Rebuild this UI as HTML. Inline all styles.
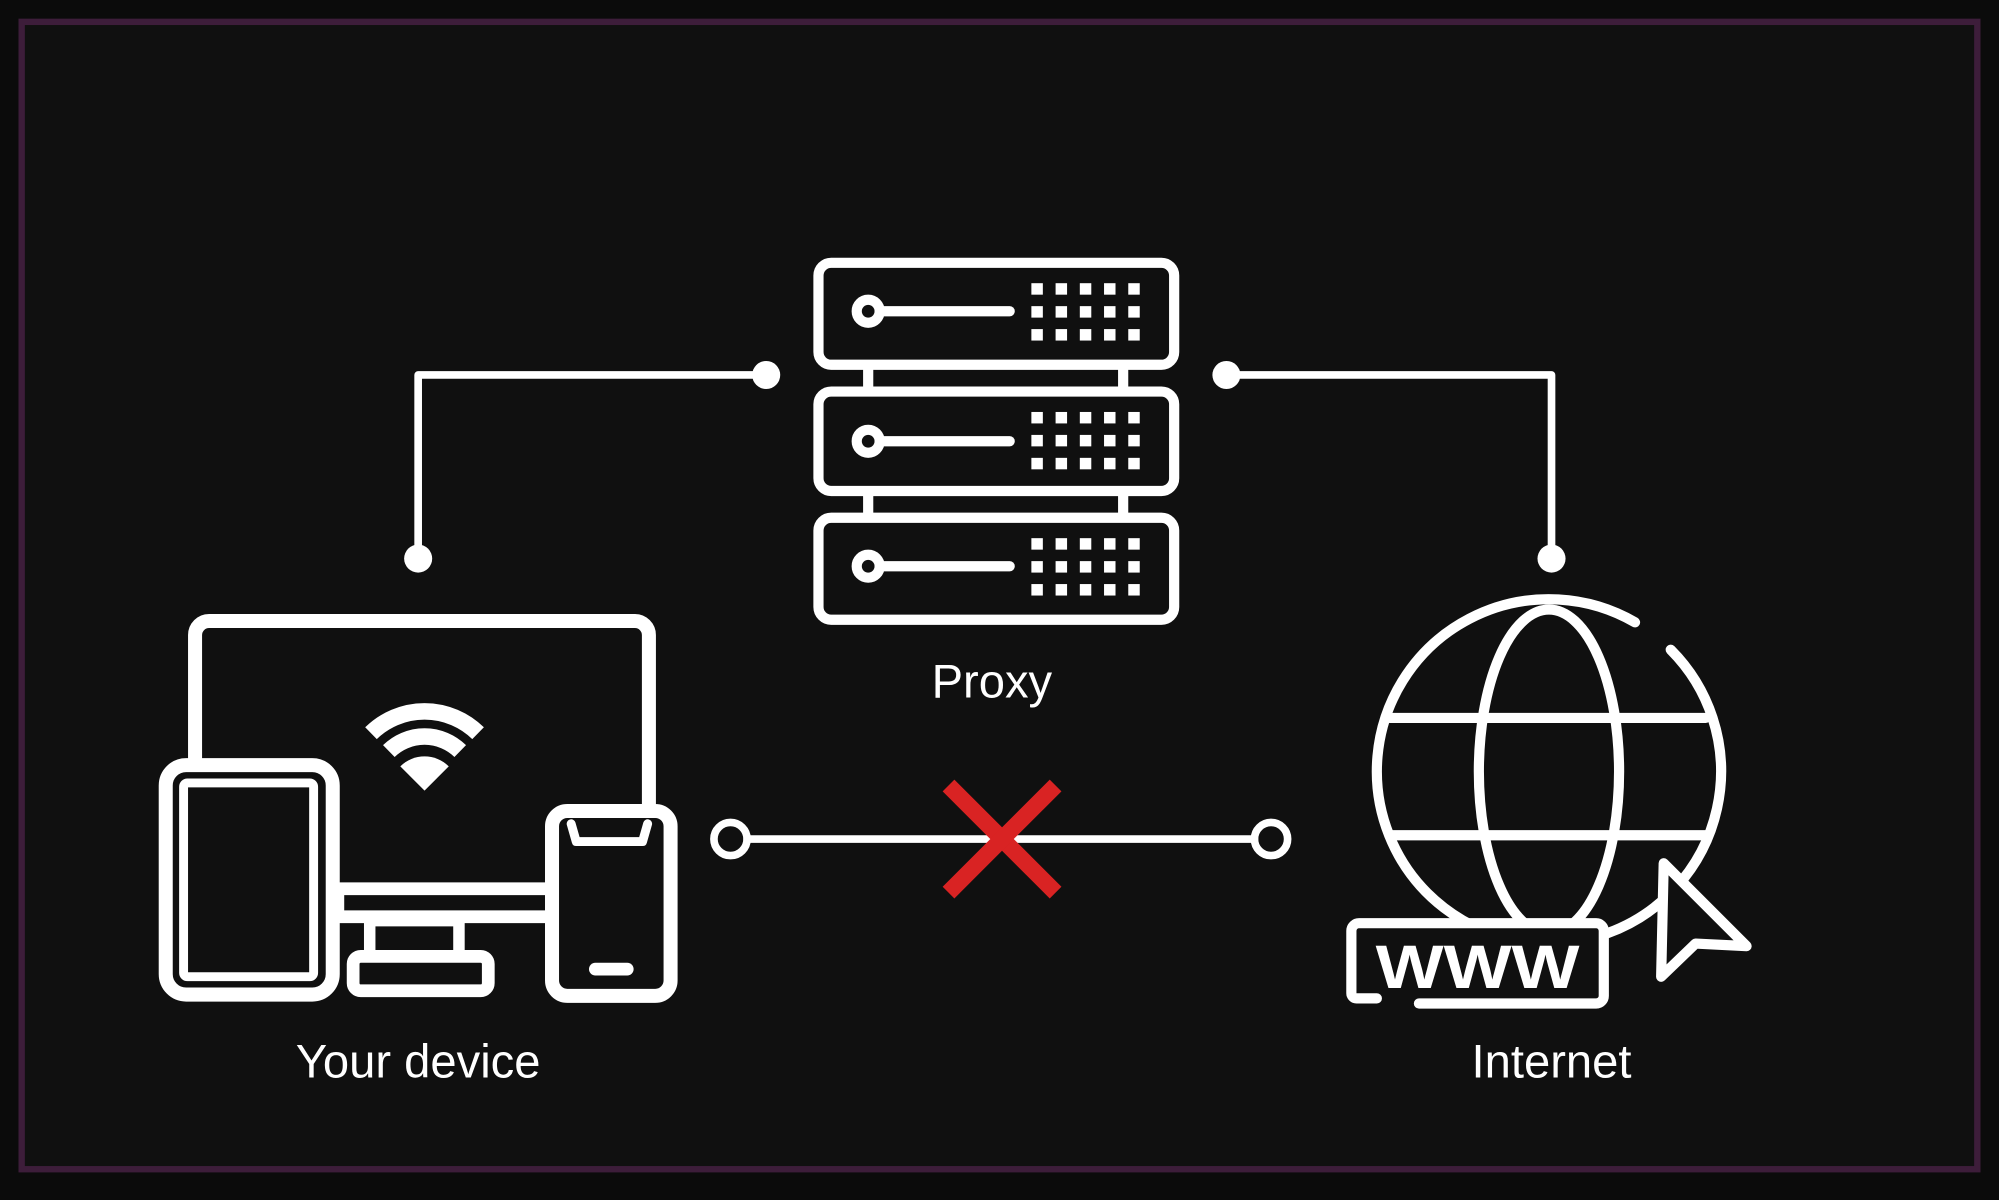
<!DOCTYPE html>
<html><head><meta charset="utf-8"><style>
html,body{margin:0;padding:0;background:#0c0c0c;}
svg{display:block;}
</style></head><body>
<svg width="1999" height="1200" viewBox="0 0 1568 941" xmlns="http://www.w3.org/2000/svg">
<rect x="0" y="0" width="1568" height="941" fill="#0b0b0b"/>
<rect x="17" y="17" width="1534" height="900" fill="#101010" stroke="#3d1d3a" stroke-width="5"/>
<g fill="none" stroke="#fff" stroke-width="8" stroke-linecap="round" stroke-linejoin="round">
  <rect x="642" y="206" width="279" height="80" rx="10"/>
  <rect x="642" y="307" width="279" height="78" rx="10"/>
  <rect x="642" y="406" width="279" height="80" rx="10"/>
  <line x1="681" y1="290" x2="681" y2="303"/><line x1="881" y1="290" x2="881" y2="303"/>
  <line x1="681" y1="389" x2="681" y2="402"/><line x1="881" y1="389" x2="881" y2="402"/>
  <circle cx="681" cy="244" r="9"/><line x1="690" y1="244" x2="792" y2="244"/>
  <circle cx="681" cy="346" r="9"/><line x1="690" y1="346" x2="792" y2="346"/>
  <circle cx="681" cy="444" r="9"/><line x1="690" y1="444" x2="792" y2="444"/>
  <polyline points="601,294 328,294 328,438" stroke-width="6"/>
  <polyline points="962,294 1217,294 1217,438" stroke-width="6"/>
  <line x1="586" y1="658" x2="984" y2="658" stroke-width="6"/>
  <circle cx="573" cy="658" r="13" stroke-width="6"/>
  <circle cx="997" cy="658" r="13" stroke-width="6"/>
  <path d="M153,596 V498 a11,11 0 0 1 11,-11 H498 a11,11 0 0 1 11,11 V634" stroke-width="11"/>
  <rect x="265" y="697" width="168" height="22" stroke-width="10"/>
  <rect x="290" y="722" width="70" height="28" stroke-width="9"/>
  <rect x="277" y="750" width="106" height="27" rx="6" stroke-width="10"/>
  <rect x="130" y="600" width="131" height="180" rx="16" stroke-width="11"/>
  <rect x="144" y="614" width="102" height="152" rx="3" stroke-width="7"/>
  <rect x="433" y="636" width="93" height="145" rx="12" stroke-width="11"/>
  <path d="M448,646 L452,660 H504 L508,646" stroke-width="7"/>
  <line x1="467" y1="760" x2="492" y2="760" stroke-width="10"/>
  <!-- globe -->
  <path d="M1282.5,488 A135,135 0 1 0 1310.5,509.5" stroke-width="8"/>
  <ellipse cx="1215" cy="605" rx="55" ry="127" stroke-width="8"/>
  <line x1="1090" y1="563" x2="1338" y2="563" stroke-width="8"/>
  <line x1="1090" y1="655" x2="1338" y2="655" stroke-width="8"/>
  <path d="M1080,783 H1064 a4,4 0 0 1 -4,-4 V730 a6,6 0 0 1 6,-6 H1252 a6,6 0 0 1 6,6 V781 a6,6 0 0 1 -6,6 H1113" stroke-width="8" fill="#101010"/>
  <path d="M1305,677 L1303,766 L1330,740 L1370,742 Z" stroke-width="8" fill="#101010"/>
</g>
<g fill="#fff">
  <circle cx="601" cy="294" r="11"/><circle cx="328" cy="438" r="11"/>
  <circle cx="962" cy="294" r="11"/><circle cx="1217" cy="438" r="11"/>
  <g id="dg">
    <rect x="809" y="222" width="9" height="9"/><rect x="828" y="222" width="9" height="9"/><rect x="847" y="222" width="9" height="9"/><rect x="866" y="222" width="9" height="9"/><rect x="885" y="222" width="9" height="9"/>
    <rect x="809" y="240" width="9" height="9"/><rect x="828" y="240" width="9" height="9"/><rect x="847" y="240" width="9" height="9"/><rect x="866" y="240" width="9" height="9"/><rect x="885" y="240" width="9" height="9"/>
    <rect x="809" y="258" width="9" height="9"/><rect x="828" y="258" width="9" height="9"/><rect x="847" y="258" width="9" height="9"/><rect x="866" y="258" width="9" height="9"/><rect x="885" y="258" width="9" height="9"/>
  </g>
  <use href="#dg" y="101"/><use href="#dg" y="200"/>
  <path d="M333,620 L314,601 A27,27 0 0 1 352,601 Z"/>
</g>
<g fill="none" stroke="#fff" stroke-width="13">
  <path d="M305,589 A40,40 0 0 1 361,589"/>
  <path d="M291,575 A60,60 0 0 1 375,575"/>
</g>
<g stroke="#d92323" stroke-width="13">
  <line x1="744" y1="616" x2="828" y2="700"/><line x1="828" y1="616" x2="744" y2="700"/>
</g>
<g font-family="Liberation Sans, sans-serif" fill="#fff" text-anchor="middle">
  <text x="1159" y="775" font-size="48" font-weight="bold" textLength="160" lengthAdjust="spacingAndGlyphs">WWW</text>
  <text x="778" y="547" font-size="37">Proxy</text>
  <text x="328" y="845" font-size="37">Your device</text>
  <text x="1217" y="845" font-size="37">Internet</text>
</g>
</svg>
</body></html>
